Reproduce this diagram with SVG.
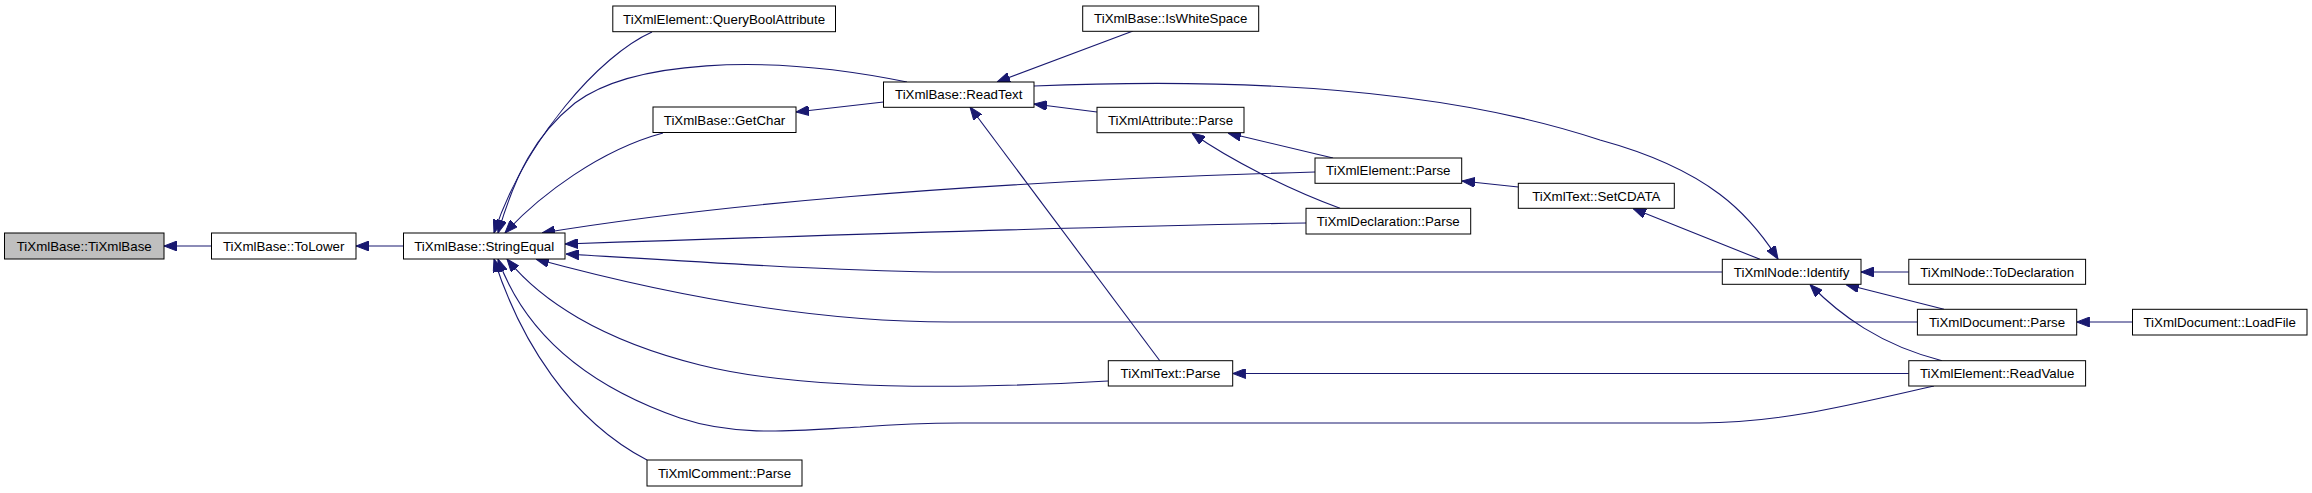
<svg xmlns="http://www.w3.org/2000/svg" width="2312" height="493" viewBox="0 0 2312 493">
<style>
.n rect{fill:#fff;stroke:#000;stroke-width:1}
.n.root rect{fill:#bfbfbf}
.n text{font-family:"Liberation Sans",Arial,Helvetica,sans-serif;font-size:13.3px;fill:#000;text-anchor:middle}
.e path{fill:none;stroke:#191970;stroke-width:1.1;marker-start:url(#ah)}
</style>
<defs>
<marker id="ah" markerUnits="userSpaceOnUse" markerWidth="13" markerHeight="10" viewBox="0 0 13 10" refX="13" refY="5" orient="auto-start-reverse">
<path d="M0,0 L13,5 L0,10 z" fill="#191970" stroke="#191970" stroke-width="1"/>
</marker>
</defs>
<rect width="2312" height="493" fill="#fff"/>
<g id="edges" class="e">
<path d="M164,246 L211.5,246"/>
<path d="M356,246 L403.5,246"/>
<path d="M494,233 C525,140 600,55 652,32"/>
<path d="M498,233 C515,175 535,135 575,103 C630,62 760,52 907,82"/>
<path d="M505,233 C540,195 600,150 663,133"/>
<path d="M796,112 L883.5,102"/>
<path d="M997,82 L1133,31"/>
<path d="M1034,104 L1097,112"/>
<path d="M1228,133 L1333,158"/>
<path d="M1192,133 C1230,160 1290,190 1340,208.3"/>
<path d="M542,233 C700,207 950,182 1315,172"/>
<path d="M565,244 C800,236 1100,226 1306,223"/>
<path d="M566,254 C700,262 850,272 950,272 L1722,272"/>
<path d="M536,259 C650,290 800,322 950,322 L1917,322"/>
<path d="M507,259 C540,300 600,340 700,365 C800,390 950,390 1108,381"/>
<path d="M498,259 C520,320 570,380 680,418 C740,438 800,430 860,427 C900,424 920,423 960,423 L1700,423 C1780,423 1850,405 1934,386"/>
<path d="M494,259 C520,340 570,420 647,460"/>
<path d="M970,107 L1160,361"/>
<path d="M1232.7,373.5 L1908.8,373.5"/>
<path d="M1462,181 L1518.3,187"/>
<path d="M1633,208.5 L1760,259.3"/>
<path d="M1778,259 C1750,215 1710,170 1600,140 C1480,100 1300,75 1034,86"/>
<path d="M1861,272 L1908.8,272"/>
<path d="M1846,284.5 L1944,309.3"/>
<path d="M1810,284.5 C1840,315 1880,345 1942,360.7"/>
<path d="M2076.7,322 L2132.5,322"/>
</g>
<g id="n_TiXmlBase" class="n root"><rect x="4.5" y="233" width="159.5" height="26"/><text x="84.2" y="250.7">TiXmlBase::TiXmlBase</text></g>
<g id="n_ToLower" class="n"><rect x="211.5" y="233" width="144.5" height="26"/><text x="283.7" y="250.7">TiXmlBase::ToLower</text></g>
<g id="n_StringEqual" class="n"><rect x="403.5" y="233" width="161.5" height="26"/><text x="484.2" y="250.7">TiXmlBase::StringEqual</text></g>
<g id="n_QueryBoolAttribute" class="n"><rect x="612.8" y="6" width="222.7" height="25.7"/><text x="724.1" y="23.6">TiXmlElement::QueryBoolAttribute</text></g>
<g id="n_GetChar" class="n"><rect x="653" y="107" width="143" height="25.5"/><text x="724.5" y="124.5">TiXmlBase::GetChar</text></g>
<g id="n_ReadText" class="n"><rect x="883.5" y="82" width="150.5" height="25.3"/><text x="958.7" y="99.4">TiXmlBase::ReadText</text></g>
<g id="n_IsWhiteSpace" class="n"><rect x="1082.7" y="6" width="176" height="25.3"/><text x="1170.7" y="23.4">TiXmlBase::IsWhiteSpace</text></g>
<g id="n_AttributeParse" class="n"><rect x="1097" y="107.3" width="147" height="25.4"/><text x="1170.5" y="124.7">TiXmlAttribute::Parse</text></g>
<g id="n_ElementParse" class="n"><rect x="1315" y="158" width="146.7" height="25.3"/><text x="1388.3" y="175.4">TiXmlElement::Parse</text></g>
<g id="n_DeclarationParse" class="n"><rect x="1306" y="208.3" width="164.7" height="25.7"/><text x="1388.3" y="225.9">TiXmlDeclaration::Parse</text></g>
<g id="n_SetCDATA" class="n"><rect x="1518.3" y="183.3" width="156" height="25"/><text x="1596.3" y="200.5">TiXmlText::SetCDATA</text></g>
<g id="n_Identify" class="n"><rect x="1722.3" y="259.3" width="138.7" height="25"/><text x="1791.6" y="276.5">TiXmlNode::Identify</text></g>
<g id="n_ToDeclaration" class="n"><rect x="1908.8" y="259.3" width="176.8" height="25"/><text x="1997.2" y="276.5">TiXmlNode::ToDeclaration</text></g>
<g id="n_DocumentParse" class="n"><rect x="1917.4" y="309.3" width="159.3" height="25.7"/><text x="1997" y="326.9">TiXmlDocument::Parse</text></g>
<g id="n_LoadFile" class="n"><rect x="2132.5" y="309.3" width="174.5" height="25.7"/><text x="2219.7" y="326.9">TiXmlDocument::LoadFile</text></g>
<g id="n_ReadValue" class="n"><rect x="1908.8" y="360.7" width="176.8" height="25.3"/><text x="1997.2" y="378.1">TiXmlElement::ReadValue</text></g>
<g id="n_TextParse" class="n"><rect x="1108.3" y="360.7" width="124.4" height="25.3"/><text x="1170.5" y="378.1">TiXmlText::Parse</text></g>
<g id="n_CommentParse" class="n"><rect x="647" y="460" width="155" height="26"/><text x="724.5" y="477.7">TiXmlComment::Parse</text></g>
</svg>
